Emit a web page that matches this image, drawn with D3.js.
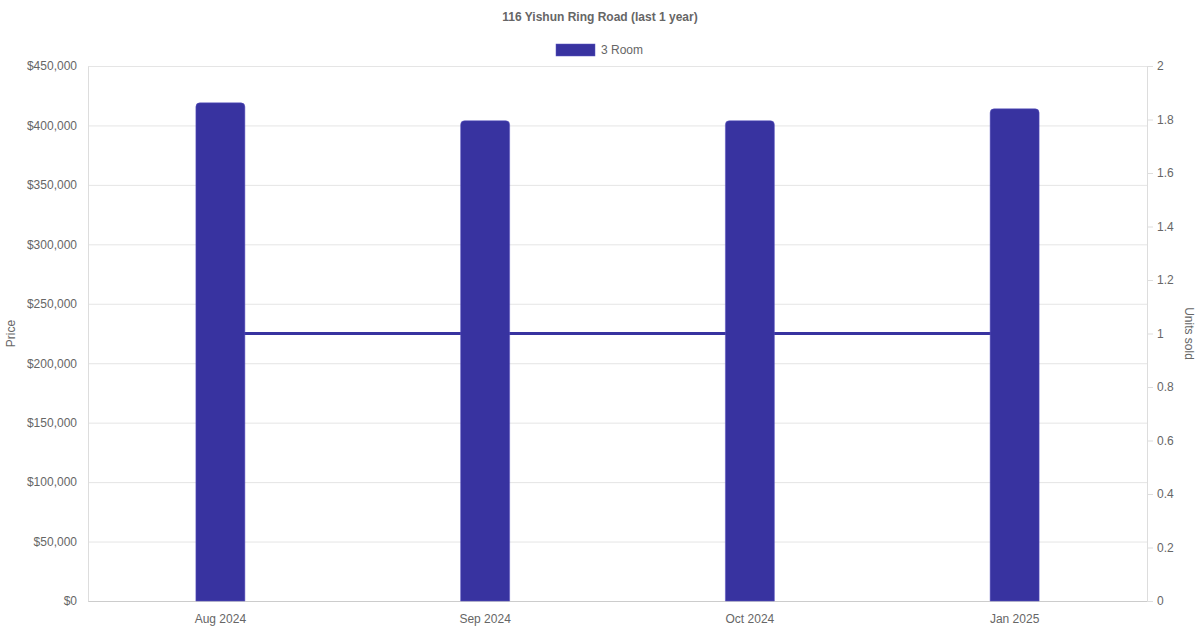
<!DOCTYPE html>
<html>
<head>
<meta charset="utf-8">
<script src="https://cdn.jsdelivr.net/npm/d3@7"></script>
<style>
  body { margin: 0; background: #fff; }
  svg { font-family: "Liberation Sans", Arial, sans-serif; }
  .axis text { fill: #666; font-size: 12px; }
  .axis path, .axis line { stroke: #ddd; }
</style>
</head>
<body>
<svg id="chart" width="1200" height="630"></svg>
<script>
// chart data
var months = ["Aug 2024", "Sep 2024", "Oct 2024", "Jan 2025"];
var prices = [419000, 404000, 404000, 414000];
var unitsSold = [1, 1, 1, 1];
var priceTicks = [0, 50000, 100000, 150000, 200000, 250000, 300000, 350000, 400000, 450000];
var unitTicks = [0, 0.2, 0.4, 0.6, 0.8, 1, 1.2, 1.4, 1.6, 1.8, 2];

var color = "#3833a0";

var svg = d3.select("#chart"),
    margin = {top: 66, right: 53, bottom: 29, left: 88},
    width = +svg.attr("width") - margin.left - margin.right,
    height = +svg.attr("height") - margin.top - margin.bottom,
    g = svg.append("g").attr("transform", "translate(" + margin.left + "," + margin.top + ")");

var x = d3.scaleBand()
    .domain(months)
    .range([0, width]);

var y = d3.scaleLinear()
    .domain([0, 450000])
    .range([height, 0]);

var y2 = d3.scaleLinear()
    .domain([0, 2])
    .range([height, 0]);

// grid lines (left axis)
g.append("g")
    .selectAll("line")
    .data(priceTicks)
    .enter().append("line")
      .attr("x1", 0)
      .attr("x2", width)
      .attr("y1", function(d) { return y(d) + 0.5; })
      .attr("y2", function(d) { return y(d) + 0.5; })
      .attr("stroke", function(d) { return d === 0 ? "#ccc" : "#e5e5e5"; })
      .attr("stroke-width", 1);

// left axis
var yAxis = g.append("g")
    .attr("class", "axis")
    .call(d3.axisLeft(y).tickValues(priceTicks).tickSize(0).tickPadding(11)
      .tickFormat(function(d) { return "$" + d3.format(",")(d); }));
yAxis.select(".domain").attr("stroke", "#e5e5e5");

// right axis
var y2Axis = g.append("g")
    .attr("class", "axis")
    .attr("transform", "translate(" + width + ",0)")
    .call(d3.axisRight(y2).tickValues(unitTicks).tickSize(6).tickPadding(4)
      .tickFormat(function(d) { return d3.format("~g")(d); }));
y2Axis.select(".domain").attr("d", "M0.5,0V" + height).attr("stroke", "#e5e5e5");
y2Axis.selectAll(".tick line").attr("stroke", "#e5e5e5");

// bottom axis
var xAxis = g.append("g")
    .attr("class", "axis")
    .attr("transform", "translate(0," + height + ")")
    .call(d3.axisBottom(x).tickSize(0).tickPadding(13));
xAxis.select(".domain").remove();

// units sold line
var line = d3.line()
    .x(function(d, i) { return x(months[i]) + x.bandwidth() / 2; })
    .y(function(d) { return y2(d); });

g.append("path")
    .datum(unitsSold)
    .attr("fill", "none")
    .attr("stroke", color)
    .attr("stroke-width", 3)
    .attr("d", line);

// price bars (rounded top)
var barW = 49;
var r = 4;
g.append("g")
    .selectAll("path")
    .data(prices)
    .enter().append("path")
      .attr("fill", color)
      .attr("stroke", "#5a55c0")
      .attr("stroke-width", 0.5)
      .attr("d", function(d, i) {
        var x0 = x(months[i]) + x.bandwidth() / 2 - barW / 2,
            x1 = x0 + barW,
            yt = y(d),
            yb = height;
        return "M" + x0 + "," + yb +
          "V" + (yt + r) +
          "Q" + x0 + "," + yt + " " + (x0 + r) + "," + yt +
          "H" + (x1 - r) +
          "Q" + x1 + "," + yt + " " + x1 + "," + (yt + r) +
          "V" + yb + "Z";
      });

// axis titles
svg.append("text")
    .attr("transform", "translate(15," + (margin.top + height / 2) + ") rotate(-90)")
    .attr("text-anchor", "middle")
    .attr("fill", "#666")
    .attr("font-size", 12)
    .text("Price");

svg.append("text")
    .attr("transform", "translate(1185," + (margin.top + height / 2) + ") rotate(90)")
    .attr("text-anchor", "middle")
    .attr("fill", "#666")
    .attr("font-size", 12)
    .text("Units sold");

// title
svg.append("text")
    .attr("x", 600)
    .attr("y", 21)
    .attr("text-anchor", "middle")
    .attr("fill", "#666")
    .attr("font-size", 12)
    .attr("font-weight", "bold")
    .text("116 Yishun Ring Road (last 1 year)");

// legend
var legend = svg.append("g").attr("transform", "translate(556,44)");
legend.append("rect")
    .attr("width", 39)
    .attr("height", 12)
    .attr("fill", color)
    .attr("stroke", "#5a55c0")
    .attr("stroke-width", 0.5);
legend.append("text")
    .attr("x", 45)
    .attr("y", 6)
    .attr("dy", "0.35em")
    .attr("fill", "#666")
    .attr("font-size", 12)
    .text("3 Room");
</script>
</body>
</html>
